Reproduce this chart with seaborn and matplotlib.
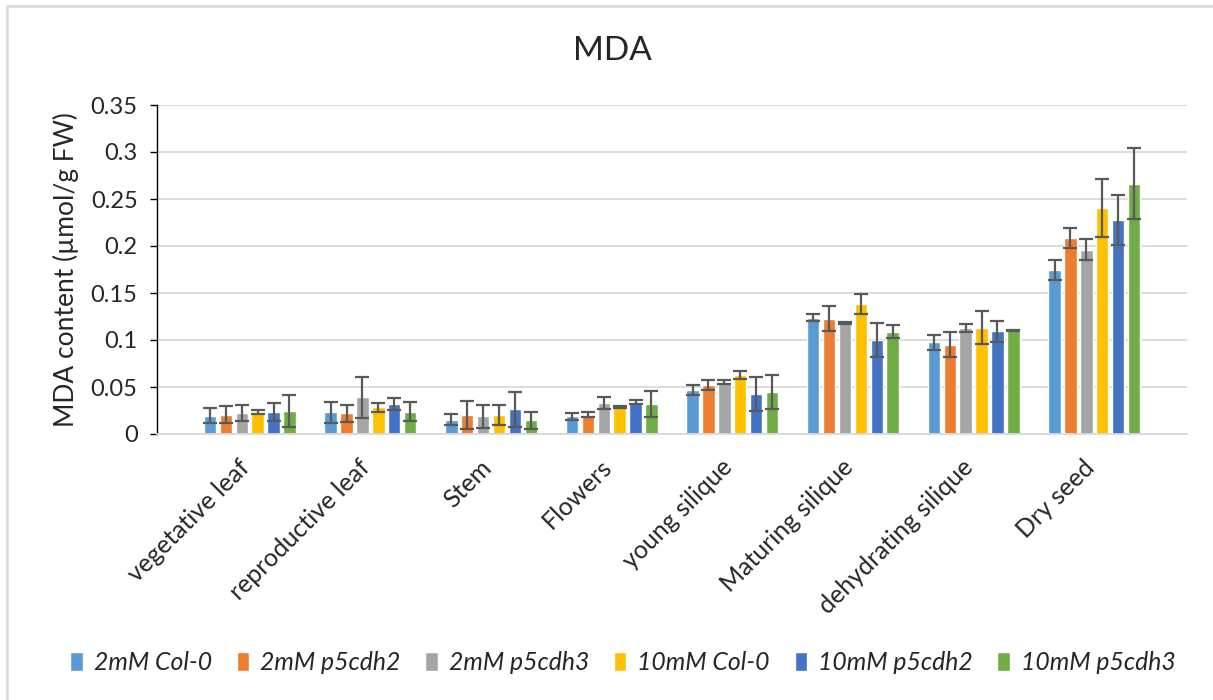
"""MDA content per tissue, six genotype/treatment series (Excel-style bars)."""
import matplotlib
matplotlib.use("Agg")
import matplotlib.pyplot as plt
import matplotlib.transforms as mtransforms
import numpy as np
import pandas as pd
import seaborn as sns
from matplotlib.patches import Rectangle

tissues = ["vegetative leaf", "reproductive leaf", "Stem", "Flowers",
           "young silique", "Maturing silique", "dehydrating silique", "Dry seed"]
series = ["2mM Col-0", "2mM p5cdh2", "2mM p5cdh3",
          "10mM Col-0", "10mM p5cdh2", "10mM p5cdh3"]

col0_2mm   = [0.0196, 0.0229, 0.0152, 0.0188, 0.0468, 0.1238, 0.0975, 0.1745]
p5cdh2_2mm = [0.0207, 0.0221, 0.0202, 0.0206, 0.0521, 0.1227, 0.0950, 0.2085]
p5cdh3_2mm = [0.0221, 0.0389, 0.0188, 0.0330, 0.0557, 0.1184, 0.1131, 0.1961]
col0_10mm  = [0.0232, 0.0282, 0.0206, 0.0284, 0.0628, 0.1383, 0.1131, 0.2404]
p5cdh2_10mm = [0.0239, 0.0318, 0.0262, 0.0337, 0.0429, 0.1004, 0.1092, 0.2277]
p5cdh3_10mm = [0.0246, 0.0239, 0.0145, 0.0323, 0.0447, 0.1089, 0.1106, 0.2663]

err_col0_2mm   = [0.0082, 0.0114, 0.0059, 0.0037, 0.0053, 0.0035, 0.0083, 0.0106]
err_p5cdh2_2mm = [0.0091, 0.0091, 0.0144, 0.0025, 0.0053, 0.0130, 0.0135, 0.0110]
err_p5cdh3_2mm = [0.0088, 0.0214, 0.0120, 0.0059, 0.0021, 0.0010, 0.0044, 0.0110]
err_col0_10mm  = [0.0020, 0.0050, 0.0106, 0.0010, 0.0039, 0.0110, 0.0176, 0.0310]
err_p5cdh2_10mm = [0.0096, 0.0064, 0.0186, 0.0020, 0.0180, 0.0180, 0.0110, 0.0264]
err_p5cdh3_10mm = [0.0170, 0.0102, 0.0087, 0.0137, 0.0184, 0.0067, 0.0005, 0.0380]

values = [col0_2mm, p5cdh2_2mm, p5cdh3_2mm, col0_10mm, p5cdh2_10mm, p5cdh3_10mm]
errors = [err_col0_2mm, err_p5cdh2_2mm, err_p5cdh3_2mm,
          err_col0_10mm, err_p5cdh2_10mm, err_p5cdh3_10mm]
colors = ["#5B9BD5", "#ED7D31", "#A5A5A5", "#FFC000", "#4472C4", "#70AD47"]

df = pd.DataFrame({
    "tissue": np.tile(tissues, len(series)),
    "series": np.repeat(series, len(tissues)),
    "mda": np.concatenate(values),
})

sns.set_style("white")
plt.rcParams["font.family"] = ["Lato", "DejaVu Sans"]

fig = plt.figure(figsize=(12.13, 7.0), dpi=100)
ax = fig.add_axes([157 / 1213, 1 - 434 / 700, (1187 - 157) / 1213, (434 - 105) / 700])

sns.barplot(data=df, x="tissue", y="mda", hue="series", order=tissues,
            hue_order=series, palette=colors, saturation=1, errorbar=None,
            width=0.79, gap=0.22, ax=ax, zorder=2)

for cont, err in zip(ax.containers, errors):
    xs = [p.get_x() + p.get_width() / 2 for p in cont.patches]
    ys = [p.get_height() for p in cont.patches]
    ax.errorbar(xs, ys, yerr=err, fmt="none", ecolor="#595959",
                elinewidth=1.6, capsize=5, capthick=1.6, zorder=3)

ax.set_ylim(0, 0.35)
ax.set_yticks(np.arange(0, 0.351, 0.05))
ax.set_yticklabels(["0", "0.05", "0.1", "0.15", "0.2", "0.25", "0.3", "0.35"])
ax.yaxis.grid(True, color="#D9D9D9", lw=1.3, zorder=0)
ax.set_axisbelow(True)
for s in ["top", "right"]:
    ax.spines[s].set_visible(False)
ax.spines["left"].set_color("black")
ax.spines["left"].set_linewidth(1.0)
ax.spines["bottom"].set_color("#D9D9D9")
ax.spines["bottom"].set_linewidth(1.3)
ax.tick_params(axis="y", direction="out", length=5, width=1, color="black",
               labelsize=17, pad=9, left=True)
ax.tick_params(axis="x", length=0, labelsize=18, pad=14)
ax.set_xticks(range(len(tissues)))
ax.set_xticklabels(tissues, rotation=45, ha="right", rotation_mode="anchor")
shift = mtransforms.ScaledTranslation(-0.12, -0.02, fig.dpi_scale_trans)
for lab in ax.get_xticklabels():
    lab.set_transform(lab.get_transform() + shift)
ax.set_xlabel("")
ax.set_ylabel("MDA content (µmol/g FW)", fontsize=19, labelpad=8)
fig.text(612 / 1213, 1 - 51 / 700, "MDA", fontsize=24, ha="center", va="center")

handles, labels = ax.get_legend_handles_labels()
ax.legend_.remove()
fig.legend(handles, labels, loc="center", bbox_to_anchor=(623 / 1213, 1 - 663 / 700),
           ncol=6, frameon=False, handlelength=0.5, handleheight=0.8,
           handletextpad=0.45, columnspacing=1.0,
           prop={"style": "italic", "size": 17.8})

fig.patches.append(Rectangle((7 / 1213, -0.1), 1.2, 1 - 6 / 700 + 0.1,
                             transform=fig.transFigure, fill=False,
                             edgecolor="#D9D9D9", lw=1.8))

fig.savefig("out.png", dpi=100)
